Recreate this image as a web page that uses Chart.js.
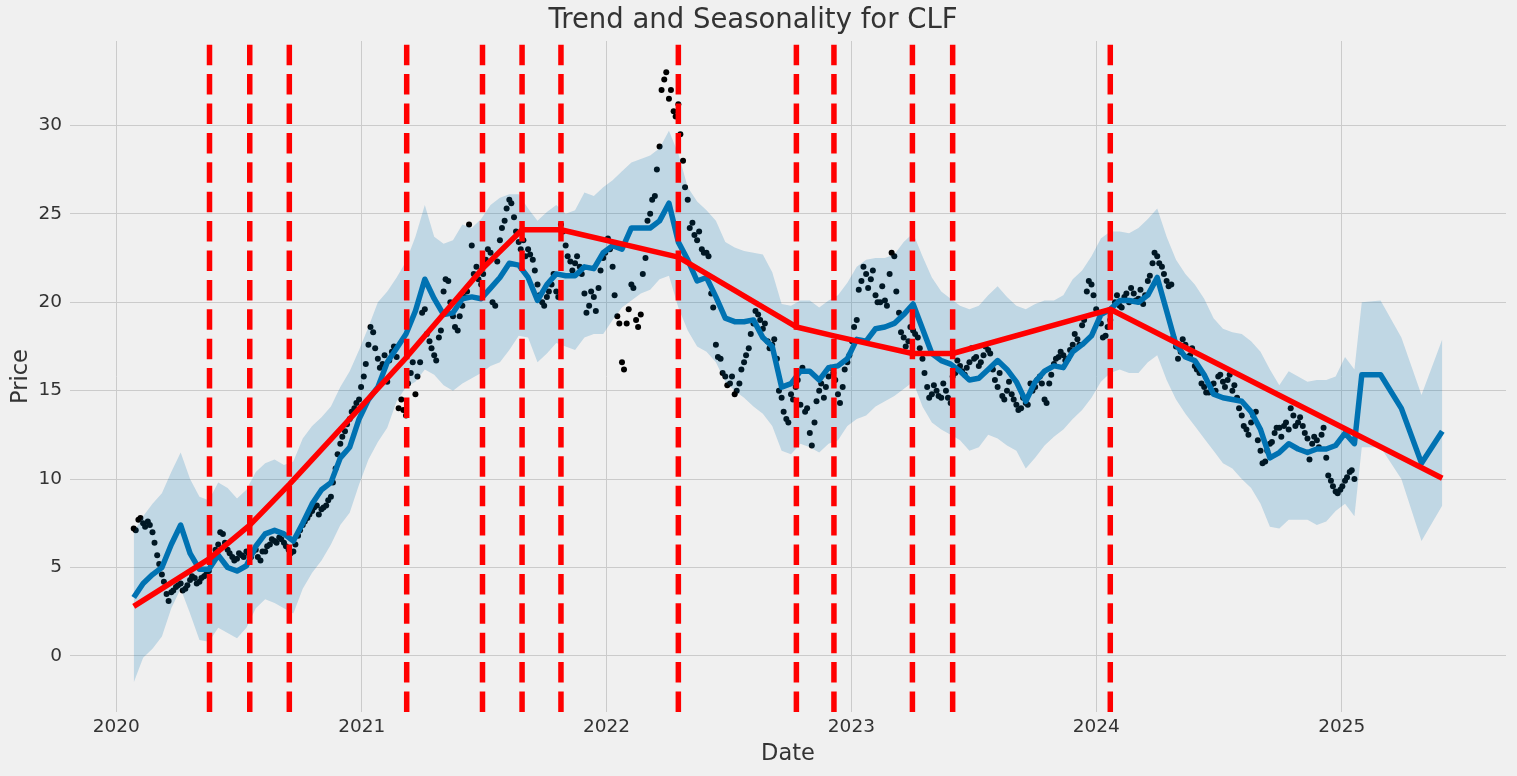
<!DOCTYPE html>
<html>
<head>
<meta charset="utf-8">
<title>Trend and Seasonality for CLF</title>
<script src="https://cdn.jsdelivr.net/npm/chart.js@4.4.1/dist/chart.umd.min.js"></script>
<style>
  html, body { margin: 0; padding: 0; background: #f0f0f0; }
  #wrap { width: 1517px; height: 776px; }
</style>
</head>
<body>
<div id="wrap"><canvas id="chart" width="1517" height="776"></canvas></div>
<script>
// --- data ---
// closing prices: one reading per week from priceStart, plus a second pass mid-week
const priceStart = '2020-01-27';
const priceMidStart = '2020-01-30';
const priceStepDays = 7;
const priceValues = [
  7.2, 7.7, 7.5, 7.6, 7.0, 5.7, 4.6, 3.5, 3.6, 3.9,
  4.1, 3.8, 4.3, 4.4, 4.2, 4.5, 4.8, 5.6, 6.3, 6.9,
  6.0, 5.6, 5.5, 5.7, 5.9, 5.6, 6.0, 5.4, 5.9, 6.3,
  6.5, 6.7, 6.4, 6.0, 5.9, 6.8, 7.4, 7.8, 8.2, 8.5,
  8.3, 8.5, 9.0, 10.6, 12.0, 12.7, 13.4, 14.0, 14.5, 15.8,
  17.6, 18.3, 16.8, 16.5, 15.5, 17.2, 16.9, 14.5, 13.6, 16.0,
  14.8, 16.6, 19.6, 17.8, 17.0, 18.0, 20.6, 21.2, 19.2, 18.4,
  19.8, 20.6, 23.2, 22.0, 21.0, 22.4, 22.8, 19.8, 23.5, 24.6,
  25.8, 24.8, 23.4, 23.5, 23.0, 22.4, 21.0, 20.0, 20.3, 21.0,
  20.6, 24.4, 23.2, 22.3, 22.2, 22.0, 20.5, 19.8, 20.3, 20.8,
  22.5, 23.6, 22.0, 19.2, 16.6, 18.8, 21.0, 19.0, 19.3, 22.5,
  25.0, 26.0, 28.8, 32.6, 31.5, 30.8, 31.2, 28.0, 25.8, 24.5,
  23.5, 23.0, 22.8, 20.5, 17.6, 16.8, 15.8, 15.4, 14.8, 15.4,
  16.6, 17.4, 18.8, 19.3, 18.5, 17.8, 17.6, 16.8, 14.6, 13.4,
  14.8, 15.2, 14.2, 13.8, 12.6, 13.2, 15.0, 14.6, 15.8, 16.0,
  14.8, 15.2, 16.6, 17.8, 19.0, 21.2, 21.6, 21.3, 20.4, 20.0,
  20.1, 21.6, 22.6, 19.4, 18.0, 17.8, 18.4, 18.0, 16.8, 15.2,
  14.8, 15.0, 14.6, 15.0, 14.3, 16.0, 16.4, 15.9, 16.6, 16.8,
  16.4, 17.0, 17.3, 16.2, 15.2, 14.7, 15.0, 14.8, 14.2, 14.0,
  14.3, 15.4, 15.2, 15.8, 14.5, 15.4, 16.5, 16.9, 17.0, 16.8,
  17.6, 17.9, 18.7, 20.6, 21.0, 19.6, 18.8, 18.1, 19.0, 20.0,
  19.8, 20.3, 20.0, 20.5, 20.2, 19.9, 21.2, 22.2, 22.6, 22.0,
  21.2, 21.0, 17.5, 17.2, 17.6, 17.0, 16.4, 16.0, 15.2, 14.9,
  15.4, 15.8, 15.5, 15.6, 15.0, 14.6, 13.6, 12.8, 13.2, 13.8,
  11.6, 11.0, 12.0, 12.6, 12.9, 13.0, 12.8, 13.6, 13.2, 13.0,
  12.3, 12.0, 12.2, 12.5, 11.2, 9.9, 9.3, 9.4, 9.9, 10.4, 10.0
];
const priceMidValues = [
  7.1, 7.8, 7.3, 7.4, 6.4, 5.2, 4.2, 3.1, 3.7, 4.0,
  3.7, 4.0, 4.5, 4.1, 4.4, 4.6, 5.2, 6.0, 7.0, 6.4,
  5.8, 5.4, 5.8, 5.6, 5.8, 5.9, 5.6, 5.9, 6.2, 6.6,
  6.4, 6.6, 6.2, 5.8, 6.3, 7.1, 7.6, 8.0, 8.4, 8.0,
  8.4, 8.8, 9.8, 11.4, 12.4, 13.1, 13.8, 14.3, 15.2, 16.5,
  18.6, 17.4, 16.3, 17.0, 16.7, 17.5, 14.0, 13.9, 15.4, 16.6,
  15.8, 19.4, 18.2, 17.4, 16.7, 18.4, 21.3, 20.0, 18.6, 19.2,
  20.3, 24.4, 21.6, 21.3, 21.6, 23.0, 20.0, 22.3, 24.2, 25.3,
  25.6, 24.0, 23.0, 22.6, 22.7, 21.8, 20.4, 19.8, 20.6, 21.6,
  20.3, 24.0, 22.6, 21.8, 22.6, 21.6, 19.4, 20.6, 19.5, 21.8,
  22.8, 23.0, 20.4, 18.8, 16.2, 19.6, 20.8, 18.6, 21.6, 24.6,
  25.8, 27.5, 32.0, 33.0, 32.0, 30.5, 29.5, 26.5, 24.2, 23.8,
  24.0, 22.8, 22.6, 19.7, 16.9, 16.0, 15.3, 15.8, 15.0, 16.2,
  17.0, 18.2, 19.5, 19.0, 18.8, 17.4, 17.9, 15.0, 13.8, 13.2,
  14.5, 15.6, 16.3, 14.0, 11.9, 14.4, 15.4, 15.2, 16.3, 15.6,
  14.3, 16.2, 17.0, 18.6, 20.7, 22.0, 20.8, 21.8, 20.0, 20.9,
  19.8, 22.8, 20.6, 18.3, 17.5, 18.6, 18.2, 17.4, 16.0, 14.6,
  15.3, 14.7, 15.4, 14.6, 15.8, 16.7, 16.1, 16.3, 17.4, 16.9,
  16.6, 17.5, 17.1, 15.6, 16.0, 14.5, 15.5, 14.5, 13.9, 14.6,
  14.2, 15.0, 15.6, 15.4, 14.3, 15.9, 16.8, 17.2, 16.7, 17.3,
  18.2, 17.6, 19.0, 21.2, 20.4, 19.4, 18.0, 18.6, 19.6, 20.4,
  19.7, 20.5, 20.8, 20.1, 20.7, 20.4, 21.5, 22.8, 22.2, 21.6,
  20.9, 18.0, 16.8, 17.9, 16.9, 17.4, 16.2, 15.4, 14.9, 15.3,
  15.0, 15.9, 15.2, 15.9, 15.3, 14.0, 13.0, 12.5, 13.6, 12.2,
  10.9, 11.6, 12.1, 12.9, 12.4, 13.2, 14.0, 13.0, 13.5, 12.6,
  11.1, 12.4, 11.8, 12.9, 10.2, 9.6, 9.2, 9.6, 10.1, 10.5
];

// model fit over the history, one reading every two weeks
const modelStart = '2020-01-27';
const modelStepDays = 14;
const yhatValues = [
  3.3, 4.1, 4.6, 5.0, 6.3, 7.4, 5.8, 4.9, 4.9, 5.7,
  5.0, 4.8, 5.1, 6.2, 6.9, 7.1, 6.9, 6.5, 7.5, 8.6,
  9.4, 9.8, 11.2, 11.8, 13.4, 14.5, 15.2, 16.6, 17.4, 18.2,
  19.5, 21.3, 20.2, 19.3, 19.4, 20.2, 20.3, 20.2, 20.8, 21.4,
  22.2, 22.1, 21.4, 20.1, 21.0, 21.6, 21.5, 21.5, 22.0, 21.9,
  22.8, 23.2, 23.0, 24.2, 24.2, 24.2, 24.6, 25.6, 23.4, 22.4,
  21.2, 21.4, 20.3, 19.1, 18.9, 18.9, 19.0, 18.0, 17.5, 15.2,
  15.4, 16.1, 16.1, 15.6, 16.3, 16.4, 16.8, 17.9, 17.8, 18.5,
  18.6, 18.8, 19.3, 19.9, 18.5, 17.1, 16.7, 16.5, 16.1, 15.6,
  15.7, 16.2, 16.7, 16.2, 15.5, 14.4, 15.5, 16.1, 16.4, 16.3,
  17.2, 17.6, 18.1, 19.3, 19.6, 20.1, 20.1, 20.0, 20.4, 21.4,
  19.5, 17.6, 16.9, 16.7, 15.9, 14.8, 14.6, 14.5, 14.4, 13.8,
  12.8, 11.2, 11.5, 12.0, 11.7, 11.5, 11.7, 11.7, 11.9, 12.6,
  12.0
];
const upperValues = [
  7.0, 7.9, 8.6, 9.2, 10.4, 11.5, 10.0, 9.0, 8.8, 9.8,
  9.5, 8.9, 9.4, 10.4, 10.9, 11.1, 10.8, 11.0, 12.3, 13.0,
  13.5, 14.1, 15.2, 16.1, 17.3, 18.6, 20.0, 20.6, 21.4, 22.3,
  23.7, 25.5, 23.7, 23.3, 23.5, 24.4, 24.2, 24.7, 25.5, 25.9,
  26.1, 26.1, 25.3, 24.6, 25.1, 25.5, 25.0, 25.2, 26.2, 26.0,
  26.5, 26.9, 27.4, 27.9, 28.1, 28.3, 28.7, 29.7, 28.4, 26.5,
  25.7, 25.2, 24.6, 23.4, 23.1, 22.9, 22.8, 22.7, 21.7, 19.9,
  19.8, 20.1, 20.1, 19.7, 20.1, 20.4, 21.1, 22.0, 22.4, 22.5,
  22.5, 22.7, 23.4, 23.9, 22.6, 21.4, 20.6, 20.2, 19.8, 19.6,
  19.8, 20.4, 20.9, 20.3, 19.8, 19.6, 19.9, 20.1, 20.1, 20.4,
  21.3, 21.8, 22.6, 23.6, 24.0, 24.0, 23.9, 24.2, 24.7, 25.3,
  23.7, 22.4, 21.6, 21.0, 20.2, 19.1, 18.5, 18.3, 18.2, 17.8,
  17.2, 16.2, 15.3, 16.1, 15.8, 15.5, 15.6, 15.6, 15.8, 16.9,
  16.2
];
const lowerValues = [
  -1.5, -0.1, 0.4, 1.1, 2.7, 3.8, 2.4, 0.9, 0.8, 1.6,
  1.3, 1.0, 1.6, 2.7, 3.2, 3.0, 2.7, 2.4, 3.8, 4.7,
  5.4, 6.3, 7.4, 8.1, 9.7, 11.1, 12.1, 12.9, 14.4, 15.2,
  15.5, 16.2, 15.9, 15.3, 15.0, 15.4, 15.7, 16.0, 16.4, 16.6,
  17.3, 18.1, 18.0, 16.6, 17.1, 17.7, 17.5, 17.3, 18.0, 18.2,
  18.2, 19.0, 19.7, 20.1, 20.5, 20.7, 21.3, 21.5, 19.7, 18.4,
  17.5, 17.2, 16.6, 15.5, 15.0, 14.6, 14.1, 13.7, 13.0, 11.6,
  11.4, 12.0, 11.8, 11.5, 12.0, 12.2, 13.0, 13.4, 13.6, 14.1,
  14.4, 14.7, 15.1, 15.5, 14.1, 13.2, 12.8, 12.5, 12.2, 11.6,
  11.8, 12.5, 12.3, 11.9, 11.6, 10.6, 11.2, 11.9, 12.4, 12.8,
  13.4, 13.9, 14.6, 15.5, 16.0, 16.2, 16.0, 16.0, 16.6, 17.0,
  15.6, 14.5, 13.7, 13.0, 12.3, 11.6, 10.9, 10.6, 10.0, 9.5,
  8.6, 7.3, 7.2, 7.7, 7.7, 7.7, 7.4, 7.6, 8.2, 8.6,
  7.9
];

// forecast months after the history
const futureDates = ['2025-01-31', '2025-02-28', '2025-03-31', '2025-04-30', '2025-05-31'];
const futureYhat = [15.9, 15.9, 14.0, 10.9, 12.7];
const futureUpper = [20.0, 20.1, 18.0, 14.75, 17.9];
const futureLower = [11.8, 11.8, 10.0, 6.5, 8.5];

// piecewise trend, bends at the changepoints
const changepointDates = [
  '2020-05-19', '2020-07-18', '2020-09-15', '2021-03-09', '2021-06-30', '2021-08-28', '2021-10-25',
  '2022-04-18', '2022-10-11', '2022-12-06', '2023-04-02', '2023-06-01', '2024-01-22'
];
const trendDates = ['2020-01-27'].concat(changepointDates, ['2025-05-31']);
const trendValues = [2.8, 5.5, 7.4, 9.7, 16.9, 21.9, 24.1, 24.1, 22.55, 18.6, 18.1, 17.1, 17.1, 19.6, 10.05];

const yearTicks = [2020, 2021, 2022, 2023, 2024, 2025];
const priceTicks = [0, 5, 10, 15, 20, 25, 30];

// --- helpers ---
const DAY = 86400000;
const toMs = d => new Date(d + 'T00:00:00Z').getTime();

function stepped(start, step, values) {
  const t0 = toMs(start);
  return values.map((v, i) => ({ x: t0 + i * step * DAY, y: v }));
}

function withFuture(points, values) {
  return points.concat(futureDates.map((d, i) => ({ x: toMs(d), y: values[i] })));
}

const pricePoints = stepped(priceStart, priceStepDays, priceValues)
  .concat(stepped(priceMidStart, priceStepDays, priceMidValues))
  .sort((a, b) => a.x - b.x);
const yhatPoints = withFuture(stepped(modelStart, modelStepDays, yhatValues), futureYhat);
const upperPoints = withFuture(stepped(modelStart, modelStepDays, upperValues), futureUpper);
const lowerPoints = withFuture(stepped(modelStart, modelStepDays, lowerValues), futureLower);
const trendPoints = trendDates.map((d, i) => ({ x: toMs(d), y: trendValues[i] }));

// red dashed verticals at every changepoint, drawn over the data
const changepointLines = {
  id: 'changepointLines',
  afterDatasetsDraw(chart) {
    const { ctx, chartArea, scales } = chart;
    ctx.save();
    ctx.beginPath();
    ctx.rect(chartArea.left, chartArea.top, chartArea.width, chartArea.height);
    ctx.clip();
    ctx.strokeStyle = '#ff0000';
    ctx.lineWidth = 5.5;
    ctx.lineCap = 'butt';
    ctx.setLineDash([20.5, 8.9]);
    changepointDates.forEach(d => {
      const px = scales.x.getPixelForValue(toMs(d));
      ctx.beginPath();
      ctx.moveTo(px, chartArea.bottom);
      ctx.lineTo(px, chartArea.top);
      ctx.stroke();
    });
    ctx.restore();
  }
};

Chart.defaults.font.family = "'DejaVu Sans', sans-serif";
Chart.defaults.color = '#333333';

const gridStyle = { color: '#cbcbcb', lineWidth: 1, drawTicks: false };

new Chart(document.getElementById('chart'), {
  type: 'line',
  data: {
    datasets: [
      { label: 'Trend', data: trendPoints, borderColor: '#ff0000', borderWidth: 5.5, pointRadius: 0,
        borderCapStyle: 'butt', borderJoinStyle: 'round', order: 1 },
      { label: 'Upper', data: upperPoints, borderColor: 'rgba(0,0,0,0)', borderWidth: 0, pointRadius: 0,
        backgroundColor: 'rgba(0,114,178,0.2)', fill: '+1', order: 2 },
      { label: 'Lower', data: lowerPoints, borderColor: 'rgba(0,0,0,0)', borderWidth: 0, pointRadius: 0,
        fill: false, order: 2 },
      { label: 'Forecast', data: yhatPoints, borderColor: '#0072B2', borderWidth: 5.5, pointRadius: 0,
        borderJoinStyle: 'round', fill: false, order: 3 },
      { label: 'Price', data: pricePoints, showLine: false, pointRadius: 3, pointBorderWidth: 0,
        pointBackgroundColor: '#000000', order: 4 }
    ]
  },
  options: {
    responsive: false,
    devicePixelRatio: 1,
    animation: false,
    events: [],
    parsing: false,
    layout: { padding: { top: 0, right: 11, bottom: 0, left: 0 } },
    plugins: {
      legend: { display: false },
      tooltip: { enabled: false },
      title: {
        display: true, text: 'Trend and Seasonality for CLF', color: '#333333',
        font: { size: 27.5, weight: 'normal' }, padding: { top: 4, bottom: 4 }
      }
    },
    scales: {
      x: {
        type: 'linear',
        min: toMs('2019-10-24'),
        max: toMs('2025-09-03'),
        afterBuildTicks: s => { s.ticks = yearTicks.map(y => ({ value: toMs(y + '-01-01') })); },
        afterFit: s => { s.height = 64; },
        ticks: { font: { size: 18.5 }, padding: 4, maxRotation: 0, autoSkip: false,
                 callback: v => String(new Date(v).getUTCFullYear()) },
        grid: gridStyle,
        border: { display: false },
        title: { display: true, text: 'Date', font: { size: 22.5 }, padding: { top: 0, bottom: 8.5 } }
      },
      y: {
        min: -3.17,
        max: 34.77,
        afterBuildTicks: s => { s.ticks = priceTicks.map(v => ({ value: v })); },
        afterFit: s => { s.width = 70; },
        ticks: { font: { size: 18.5 }, padding: 8 },
        grid: gridStyle,
        border: { display: false },
        title: { display: true, text: 'Price', font: { size: 22.5 }, padding: { top: 7.5, bottom: 0 } }
      }
    }
  },
  plugins: [changepointLines]
});
</script>
</body>
</html>
